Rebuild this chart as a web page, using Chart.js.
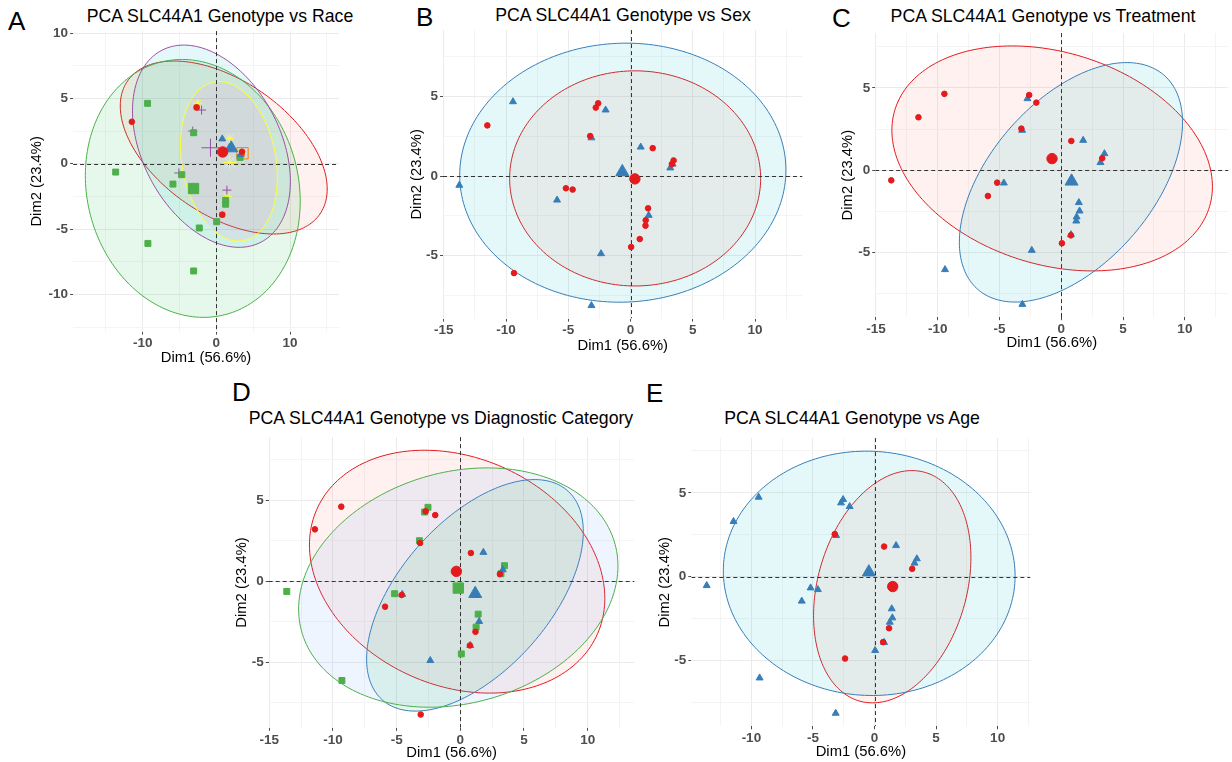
<!DOCTYPE html>
<html>
<head>
<meta charset="utf-8">
<script src="https://cdn.jsdelivr.net/npm/chart.js@4.4.0/dist/chart.umd.min.js"></script>
<style>
    body { margin: 0; background: #fff; width: 1232px; height: 762px; position: relative; overflow: hidden; font-family: "Liberation Sans", Arial, sans-serif; }
    canvas { position: absolute; }
    .title { position: absolute; font-size: 17.7px; line-height: 17.7px; white-space: nowrap; transform: translateX(-50%); color: #000; }
    .letter { position: absolute; font-size: 26px; line-height: 26px; color: #000; }
</style>
</head>
<body>
<div class="letter" style="left:8px;top:8px">A</div>
<div class="letter" style="left:416px;top:4px">B</div>
<div class="letter" style="left:832px;top:5px">C</div>
<div class="letter" style="left:232px;top:379px">D</div>
<div class="letter" style="left:646px;top:380px">E</div>
<div class="title" style="left:220px;top:7.7px">PCA SLC44A1 Genotype vs Race</div>
<div class="title" style="left:623px;top:6.7px">PCA SLC44A1 Genotype vs Sex</div>
<div class="title" style="left:1043px;top:7.7px">PCA SLC44A1 Genotype vs Treatment</div>
<div class="title" style="left:441px;top:410px">PCA SLC44A1 Genotype vs Diagnostic Category</div>
<div class="title" style="left:852px;top:410px">PCA SLC44A1 Genotype vs Age</div>
<script>
// ---- data (Dim1, Dim2) ----
// A: race (6 groups)
const raceG1 = [[-11.47, 3.21], [-2.68, 4.31], [0.8, -3.9], [3.48, 0.92]];
const raceG2 = [[0.8, 1.9], [3.3, 0.7]];
const raceG3 = [[-9.33, 4.62], [-13.66, -0.64], [-9.29, -6.1], [-3.08, -8.21], [-2.32, -4.92], [0.04, -4.44], [-4.69, -0.84], [-5.89, -1.56], [-3.08, 2.37], [1.26, -2.8], [1.26, -3.1], [3.21, 0.48]];
const raceG4 = [[-2.01, 4.11], [-3.21, 2.5], [-5.09, -0.71], [1.43, -2.02]];
const raceG5 = [[-2.68, 4.31], [0.8, -3.9], [3.48, 0.79]];
const raceG6 = [[-2.54, 4.62], [1.8, 1.94], [1.48, -2.5], [3.48, 0.79]];
const raceMeans = [[0.85, 0.9], [2.0, 1.2], [-3.1, -1.9], [-0.8, 1.22], [3.55, 0.8], [1.8, 0.1]];
// ellipses: [centre x, centre y, half width, half height, tilt]
const raceEllipses = [[1.0, 1.24, 14.04, 6.62, -0.48], [-3.2, -1.89, 14.58, 9.87, -0.1], [-0.67, 1.34, 10.71, 7.74, -0.35], [1.7, 0.18, 6.57, 6.1, -0.2]];

// B: sex
const sexG1 = [[-11.5, 3.19], [-9.36, -6.09], [-2.6, 4.58], [-2.79, 4.31], [-3.24, 2.52], [1.78, 1.76], [3.46, 0.99], [3.32, 0.76], [-5.19, -0.76], [-4.65, -0.84], [1.41, -2.02], [1.22, -2.77], [1.2, -3.11], [0.74, -3.95], [0.05, -4.45]];
const sexG2 = [[-9.44, 4.68], [-13.75, -0.57], [-5.9, -1.5], [-3.14, 2.41], [-2.0, 4.16], [0.82, 1.83], [3.19, 0.52], [3.38, 0.76], [1.46, -2.46], [-2.37, -4.87], [-3.14, -8.13]];
const sexMeans = [[0.35, -0.17], [-0.66, 0.27]];
const sexEllipses = [[0.37, -0.14, 10.08, 6.76, 0], [-0.62, 0.22, 13.1, 8.14, 0.02]];

// C: treatment
const treatG1 = [[-11.56, 3.22], [-9.46, 4.64], [-13.76, -0.61], [-2.6, 4.57], [-2.02, 4.11], [-3.23, 2.53], [0.81, 1.78], [3.31, 0.73], [-5.19, -0.75], [-5.94, -1.56], [0.05, -4.43], [0.78, -3.95]];
const treatG2 = [[-2.74, 4.35], [-3.17, 2.43], [1.77, 1.82], [3.17, 0.47], [3.49, 1.01], [-4.65, -0.77], [1.42, -1.96], [1.48, -2.47], [1.24, -2.83], [1.21, -3.08], [0.78, -3.91], [-2.39, -4.86], [-9.41, -6.03], [-3.15, -8.14]];
const treatMeans = [[-0.75, 0.71], [0.83, -0.67]];
const treatEllipses = [[-0.74, 0.72, 12.97, 6.83, -0.25], [0.78, -0.73, 9.03, 7.27, 0.5]];

// D: diagnostic category
const diagG1 = [[-11.42, 3.21], [-9.35, 4.61], [-2.72, 4.32], [-1.97, 4.09], [-3.16, 2.37], [0.83, 1.75], [3.11, 0.45], [-4.61, -0.84], [-5.91, -1.56], [1.19, -3.11], [0.75, -3.95], [-3.11, -8.21]];
const diagG2 = [[1.81, 1.79], [3.34, 0.72], [-4.56, -0.8], [1.48, -2.47], [0.78, -3.95], [-2.36, -4.88]];
const diagG3 = [[-13.63, -0.62], [-2.54, 4.57], [-2.8, 4.28], [-3.21, 2.51], [3.47, 0.97], [3.19, 0.47], [-5.16, -0.76], [1.4, -2.02], [1.24, -2.82], [0.08, -4.47], [-9.3, -6.11]];
const diagMeans = [[-0.31, 0.62], [1.17, -0.76], [-0.16, -0.41]];
const diagEllipses = [[-0.25, 0.6, 11.6, 7.49, -0.22], [1.15, -0.86, 8.51, 7.14, 0.55], [-0.16, -0.38, 12.54, 7.38, 0.18]];

// E: age
const ageG1 = [[-3.23, 2.53], [0.78, 1.79], [3.06, 0.46], [1.18, -3.09], [0.7, -3.92], [-2.39, -4.9]];
const ageG2 = [[-9.41, 4.74], [-11.45, 3.29], [-2.55, 4.6], [-2.72, 4.4], [-2.02, 4.18], [-3.12, 2.45], [1.75, 1.85], [3.44, 1.06], [3.25, 0.8], [-13.63, -0.54], [-5.19, -0.68], [-4.6, -0.78], [-5.91, -1.47], [1.4, -1.93], [1.45, -2.47], [1.24, -2.73], [0.78, -3.94], [0.05, -4.42], [-9.33, -6.06], [-3.15, -8.17]];
const ageMeans = [[1.48, -0.6], [-0.46, 0.26]];
const ageEllipses = [[1.44, -0.61, 6.39, 6.94, 0.25], [-0.43, 0.19, 11.85, 7.3, -0.02]];

// tick labels
const xTicksRace = [-10, 0, 10];
const xTicksWide = [-15, -10, -5, 0, 5, 10];
const xTicksAge = [-10, -5, 0, 5, 10];
const yTicksRace = [-10, -5, 0, 5, 10];
const yTicks = [-5, 0, 5];

const FONT = '"Liberation Sans", Arial, sans-serif';
const red = "#E41A1C", blue = "#377EB8", green = "#4DAF4A", purple = "#984EA3", orange = "#FF7F00", yellow = "#FFFF33";
const hue2 = ["rgba(248,118,109,0.1)", "rgba(0,191,196,0.1)"];
const hue3 = ["rgba(248,118,109,0.1)", "rgba(0,186,56,0.1)", "rgba(97,156,255,0.1)"];
const hue6 = ["rgba(248,118,109,0.1)", "rgba(183,159,0,0.1)", "rgba(0,186,56,0.1)", "rgba(0,191,196,0.1)", "rgba(97,156,255,0.1)", "rgba(245,100,227,0.1)"];

Chart.defaults.font.family = FONT;

function gridValues(major, range) {
    const half = (major[1] - major[0]) / 2;
    const out = [];
    for (let k = Math.ceil(range[0] / half); k * half <= range[1]; k++) {
        out.push(k * half);
    }
    return out;
}

const pcaDecor = {
    id: "pcaDecor",
    beforeDatasetsDraw(chart, args, opts) {
        const { ctx, chartArea: area, scales: { x, y } } = chart;
        ctx.save();
        ctx.beginPath();
        ctx.rect(area.left, area.top, area.width, area.height);
        ctx.clip();

        (opts.ellipses || []).forEach((e) => {
            const [cx, cy, rx, ry, rho] = e.p;
            const s = Math.sqrt(1 - rho * rho);
            ctx.beginPath();
            for (let i = 0; i <= 200; i++) {
                const t = (i / 200) * Math.PI * 2;
                const px = x.getPixelForValue(cx + rx * Math.cos(t));
                const py = y.getPixelForValue(cy + ry * (rho * Math.cos(t) + s * Math.sin(t)));
                if (i === 0) ctx.moveTo(px, py); else ctx.lineTo(px, py);
            }
            ctx.closePath();
            ctx.fillStyle = e.fill;
            ctx.fill();
            ctx.strokeStyle = e.line;
            ctx.lineWidth = 1;
            ctx.stroke();
        });

        const x0 = Math.round(x.getPixelForValue(0)) + 0.5;
        const y0 = Math.round(y.getPixelForValue(0)) + 0.5;
        ctx.setLineDash([4, 3]);
        ctx.strokeStyle = "#333";
        ctx.lineWidth = 1;
        ctx.beginPath();
        ctx.moveTo(x0, area.top);
        ctx.lineTo(x0, area.bottom);
        ctx.moveTo(area.left, y0);
        ctx.lineTo(area.right, y0);
        ctx.stroke();
        ctx.restore();
    }
};

function series(arr, style, color, r, filled = true, bw = 1) {
    return {
        data: arr.map(([x, y]) => ({ x, y })),
        pointStyle: style,
        pointRadius: r,
        backgroundColor: filled ? color : "rgba(0,0,0,0)",
        borderColor: color,
        borderWidth: bw
    };
}

function axis(major, range, title, isX, size) {
    const isMajor = (v) => major.includes(v);
    return {
        type: "linear",
        position: isX ? "bottom" : "left",
        min: range[0],
        max: range[1],
        afterBuildTicks: (s) => { s.ticks = gridValues(major, range).map((v) => ({ value: v })); },
        afterFit: (s) => { if (isX) s.height = size; else s.width = size; },
        ticks: {
            autoSkip: false,
            maxRotation: 0,
            padding: isX ? 1 : 2,
            color: "#4D4D4D",
            font: { size: 13.5, weight: 700, family: FONT },
            callback: (v) => (isMajor(v) ? String(v) : "")
        },
        grid: {
            color: (c) => (c.tick && isMajor(c.tick.value) ? "#EBEBEB" : "#F4F4F4"),
            lineWidth: 1,
            tickLength: 3,
            tickColor: (c) => (c.tick && isMajor(c.tick.value) ? "#4D4D4D" : "rgba(0,0,0,0)")
        },
        border: { display: false },
        title: { display: true, text: title, color: "#000", font: { size: 14.8, family: FONT }, padding: 0 }
    };
}

function makePanel(box, xr, yr, xMajor, yMajor, datasets, ellipses) {
    const cl = Math.round(box.yt - 8.9);
    const ct = Math.round(box.T - 10);
    const cw = Math.ceil(box.R + 6) - cl;
    const ch = Math.round(box.xt + 9) - ct;
    const canvas = document.createElement("canvas");
    canvas.width = cw;
    canvas.height = ch;
    canvas.style.left = cl + "px";
    canvas.style.top = ct + "px";
    document.body.appendChild(canvas);

    new Chart(canvas, {
        type: "scatter",
        data: { datasets },
        options: {
            responsive: false,
            animation: false,
            events: [],
            layout: { padding: { left: 0, top: box.T - ct, right: cw - (box.R - cl), bottom: 0 } },
            plugins: { legend: { display: false }, tooltip: { enabled: false }, pcaDecor: { ellipses } },
            scales: {
                x: axis(xMajor, xr, "Dim1 (56.6%)", true, ch - (box.B - ct)),
                y: axis(yMajor, yr, "Dim2 (23.4%)", false, box.L - cl)
            }
        },
        plugins: [pcaDecor]
    });
}

const ell = (list, lines, fills) => list.map((p, i) => ({ p, line: lines[i], fill: fills[i] }));

// A
makePanel({ L: 73.1, R: 342.6, T: 31, B: 331.6, yt: 36.7, xt: 358 }, [-19.44, 16.64], [-12.85, 10.15], xTicksRace, yTicksRace, [
    series(raceG1, "circle", red, 2.8),
    series(raceG2, "triangle", blue, 4),
    series(raceG3, "rect", green, 4.2),
    series(raceG4, "cross", purple, 4.5),
    series(raceG5, "rect", orange, 3.5, false),
    series(raceG5, "crossRot", orange, 3),
    series(raceG6, "star", yellow, 4.5),
    series([raceMeans[0]], "circle", red, 5.2),
    series([raceMeans[1]], "triangle", blue, 7.5),
    series([raceMeans[2]], "rect", green, 7.3),
    series([raceMeans[3]], "cross", purple, 9),
    series([raceMeans[4]], "rect", orange, 8, false),
    series([raceMeans[5]], "star", yellow, 7)
], ell(raceEllipses, [red, green, purple, yellow], [hue6[0], hue6[2], hue6[3], hue6[5]]));

// B
makePanel({ L: 443, R: 804.7, T: 29.8, B: 318.6, yt: 416.7, xt: 346 }, [-15.06, 13.81], [-8.95, 9.18], xTicksWide, yTicks, [
    series(sexG1, "circle", red, 2.8),
    series(sexG2, "triangle", blue, 4),
    series([sexMeans[0]], "circle", red, 5.2),
    series([sexMeans[1]], "triangle", blue, 7.5)
], ell(sexEllipses, [red, blue], hue2));

// C
makePanel({ L: 875.2, R: 1230.3, T: 32.6, B: 317.2, yt: 848.3, xt: 343.3 }, [-15.06, 13.53], [-8.92, 8.33], xTicksWide, yTicks, [
    series(treatG1, "circle", red, 2.8),
    series(treatG2, "triangle", blue, 4),
    series([treatMeans[0]], "circle", red, 5.2),
    series([treatMeans[1]], "triangle", blue, 7.5)
], ell(treatEllipses, [red, blue], hue2));

// D
makePanel({ L: 268.7, R: 636.4, T: 436.8, B: 727.8, yt: 241.7, xt: 753.3 }, [-15.05, 13.68], [-9.03, 8.9], xTicksWide, yTicks, [
    series(diagG1, "circle", red, 2.8),
    series(diagG2, "triangle", blue, 4),
    series(diagG3, "rect", green, 4.2),
    series([diagMeans[0]], "circle", red, 5.2),
    series([diagMeans[1]], "triangle", blue, 7.5),
    series([diagMeans[2]], "rect", green, 7.3)
], ell(diagEllipses, [red, blue, green], hue3));

// E
makePanel({ L: 691.3, R: 1032.4, T: 437.5, B: 726.3, yt: 665, xt: 752.3 }, [-14.88, 12.67], [-8.95, 8.27], xTicksAge, yTicks, [
    series(ageG1, "circle", red, 2.8),
    series(ageG2, "triangle", blue, 4),
    series([ageMeans[0]], "circle", red, 5.2),
    series([ageMeans[1]], "triangle", blue, 7.5)
], ell(ageEllipses, [red, blue], hue2));
</script>
</body>
</html>
